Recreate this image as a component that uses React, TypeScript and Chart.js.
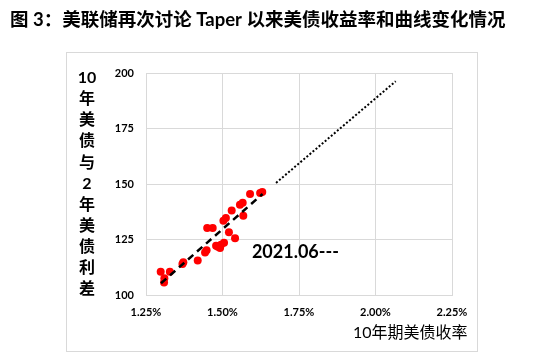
import React, { useEffect, useRef } from "react";
import { Chart, registerables } from "chart.js";

Chart.register(...registerables);

const titleText = "图 3：美联储再次讨论 Taper 以来美债收益率和曲线变化情况";
const yTitleLines = ["10", "年", "美", "债", "与", "2", "年", "美", "债", "利", "差"];
const xTitleText = "10年期美债收率";
const annotationText = "2021.06---";
const annotationPos = { x: 1.596, y: 119.1 };

// scatter points: 10y yield (%) and 10y-2y spread (bp)
const yield10 = [
  1.298, 1.31, 1.309, 1.328, 1.369, 1.372, 1.419, 1.443, 1.448, 1.45, 1.468,
  1.485, 1.495, 1.505, 1.492, 1.479, 1.503, 1.511, 1.521, 1.53, 1.541, 1.557,
  1.566, 1.568, 1.59, 1.623, 1.63,
];
const spread = [
  110.5, 107.5, 105.6, 110.5, 114.0, 114.8, 115.5, 119.1, 120.2, 130.2, 130.2,
  121.7, 122.6, 123.5, 121.2, 122.2, 133.5, 134.7, 128.3, 138.1, 125.6, 140.7,
  141.5, 135.7, 145.5, 146.0, 146.4,
];
// fitted trend (dashed) and extrapolation (dotted)
const trendX = [1.299, 1.631];
const trendY = [105.3, 145.5];
const extX = [1.675, 2.066];
const extY = [150.5, 196.3];

const xTicks = [1.25, 1.5, 1.75, 2.0, 2.25];
const yTicks = [100, 125, 150, 175, 200];

const LATIN = "Lato, 'Noto Sans CJK SC', sans-serif";

export default function App() {
  const ref = useRef<HTMLCanvasElement | null>(null);
  useEffect(() => {
    if (!ref.current) return;
    const decor = {
      id: "decor",
      beforeDraw(chart: any) {
        const ctx = chart.ctx;
        ctx.save();
        ctx.fillStyle = "#fff";
        ctx.fillRect(0, 0, chart.width, chart.height);
        ctx.strokeStyle = "#d9d9d9";
        ctx.lineWidth = 1;
        ctx.strokeRect(66.5, 52.5, 411, 299);
        ctx.restore();
      },
      afterDraw(chart: any) {
        const ctx = chart.ctx;
        ctx.save();
        ctx.fillStyle = "#000";
        ctx.textBaseline = "middle";
        ctx.textAlign = "left";
        ctx.font = "bold 18.5px " + LATIN;
        ctx.fillText(titleText, 10, 20);
        ctx.textAlign = "center";
        ctx.font = "bold 16px " + LATIN;
        yTitleLines.forEach((t, i) => {
          ctx.fillText(t, 87, 78 + i * 21.1);
        });
        ctx.textAlign = "left";
        ctx.font = "16px " + LATIN;
        ctx.fillText(xTitleText, 353, 333);
        const xs = chart.scales.x;
        const ys = chart.scales.y;
        ctx.font = "bold 18px " + LATIN;
        ctx.fillText(
          annotationText,
          xs.getPixelForValue(annotationPos.x),
          ys.getPixelForValue(annotationPos.y)
        );
        ctx.restore();
      },
    };
    const chart = new Chart(ref.current, {
      type: "scatter",
      data: {
        datasets: [
          {
            type: "line",
            data: trendX.map((x, i) => ({ x, y: trendY[i] })),
            borderColor: "#000",
            borderWidth: 2.5,
            borderDash: [7, 5],
            pointRadius: 0,
            order: 0,
          },
          {
            type: "line",
            data: extX.map((x, i) => ({ x, y: extY[i] })),
            borderColor: "#000",
            borderWidth: 2,
            borderDash: [2, 2],
            pointRadius: 0,
            order: 0,
          },
          {
            data: yield10.map((x, i) => ({ x, y: spread[i] })),
            backgroundColor: "#ff0000",
            borderColor: "#ff0000",
            pointRadius: 4,
            borderWidth: 0,
            order: 1,
          },
        ] as any,
      },
      options: {
        animation: false,
        responsive: false,
        maintainAspectRatio: false,
        layout: { padding: { left: 66, right: 97, top: 73, bottom: 0 } },
        plugins: { legend: { display: false }, tooltip: { enabled: false } },
        scales: {
          x: {
            type: "linear",
            min: 1.25,
            max: 2.25,
            afterBuildTicks: (s: any) => {
              s.ticks = xTicks.map((v) => ({ value: v }));
            },
            afterFit: (s: any) => {
              s.height = 66;
            },
            grid: { color: "#d9d9d9", drawTicks: false, lineWidth: 1 },
            border: { color: "#d9d9d9" },
            ticks: {
              padding: 11,
              color: "#000",
              font: { family: LATIN, size: 11, weight: "bold" },
              callback: (v: any) => Number(v).toFixed(2) + "%",
            },
          },
          y: {
            type: "linear",
            min: 100,
            max: 200,
            afterBuildTicks: (s: any) => {
              s.ticks = yTicks.map((v) => ({ value: v }));
            },
            afterFit: (s: any) => {
              s.width = 80;
            },
            grid: { color: "#d9d9d9", drawTicks: false, lineWidth: 1 },
            border: { color: "#d9d9d9" },
            ticks: {
              padding: 12,
              color: "#000",
              font: { family: LATIN, size: 11, weight: "bold" },
            },
          },
        },
      } as any,
      plugins: [decor],
    });
    return () => chart.destroy();
  }, []);
  return (
    <div style={{ position: "absolute", left: 0, top: 0, width: 549, height: 361 }}>
      <canvas ref={ref} width={549} height={361} style={{ width: 549, height: 361, display: "block" }} />
    </div>
  );
}
